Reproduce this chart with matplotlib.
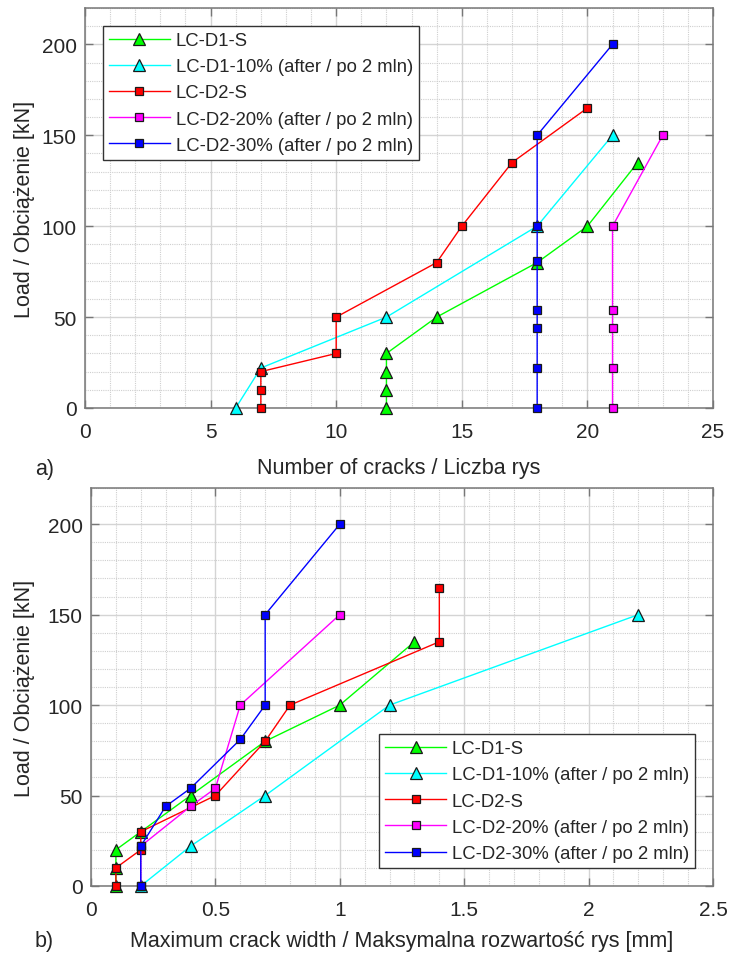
import matplotlib
matplotlib.use("Agg")
import matplotlib.pyplot as plt
from matplotlib.ticker import MultipleLocator

plt.rcParams['font.family'] = ['Liberation Sans', 'DejaVu Sans']

# ---------------- data ----------------
labels = ["LC-D1-S", "LC-D1-10% (after / po 2 mln)", "LC-D2-S",
          "LC-D2-20% (after / po 2 mln)", "LC-D2-30% (after / po 2 mln)"]
colors = ["#00ff00", "#00ffff", "#ff0000", "#ff00ff", "#0000ff"]
markers = ["^", "^", "s", "s", "s"]

# (a) number of cracks
d1s_cracks = [12, 12, 12, 12, 14, 18, 20, 22]
d1s_load_a = [0, 10, 20, 30, 50, 80, 100, 135]
d110_cracks = [6, 7, 12, 18, 21]
d110_load_a = [0, 22, 50, 100, 150]
d2s_cracks = [7, 7, 7, 10, 10, 14, 15, 17, 20]
d2s_load_a = [0, 10, 20, 30, 50, 80, 100, 135, 165]
d220_cracks = [21, 21, 21, 21, 21, 23]
d220_load_a = [0, 22, 44, 54, 100, 150]
d230_cracks = [18, 18, 18, 18, 18, 18, 18, 21]
d230_load_a = [0, 22, 44, 54, 81, 100, 150, 200]

# (b) maximum crack width [mm]
d1s_width = [0.1, 0.1, 0.1, 0.2, 0.4, 0.7, 1.0, 1.3]
d1s_load_b = [0, 10, 20, 30, 50, 80, 100, 135]
d110_width = [0.2, 0.4, 0.7, 1.2, 2.2]
d110_load_b = [0, 22, 50, 100, 150]
d2s_width = [0.1, 0.1, 0.2, 0.2, 0.5, 0.7, 0.8, 1.4, 1.4]
d2s_load_b = [0, 10, 20, 30, 50, 80, 100, 135, 165]
d220_width = [0.2, 0.2, 0.4, 0.5, 0.6, 1.0]
d220_load_b = [0, 22, 44, 54, 100, 150]
d230_width = [0.2, 0.2, 0.3, 0.4, 0.6, 0.7, 0.7, 1.0]
d230_load_b = [0, 22, 44, 54, 81, 100, 150, 200]

series_a = [(d1s_cracks, d1s_load_a), (d110_cracks, d110_load_a), (d2s_cracks, d2s_load_a),
            (d220_cracks, d220_load_a), (d230_cracks, d230_load_a)]
series_b = [(d1s_width, d1s_load_b), (d110_width, d110_load_b), (d2s_width, d2s_load_b),
            (d220_width, d220_load_b), (d230_width, d230_load_b)]

xticks_a = [0, 5, 10, 15, 20, 25]
xticks_b = [0, 0.5, 1, 1.5, 2, 2.5]
xticklabels_b = ["0", "0.5", "1", "1.5", "2", "2.5"]
yticks = [0, 50, 100, 150, 200]

fig = plt.figure(figsize=(7.37, 9.54), dpi=100)
W, H = 737.0, 954.0
ax1 = fig.add_axes([85 / W, (H - 409) / H, 628 / W, 400 / H])
ax2 = fig.add_axes([91 / W, (H - 887) / H, 622 / W, 398 / H])

spine_col = "#777777"
text_col = "#262626"


def style(ax, xmax, xmajor, xminor, ylab_x, xlab_y, xlabel):
    ax.set_xlim(0, xmax)
    ax.set_ylim(0, 220)
    ax.xaxis.set_major_locator(MultipleLocator(xmajor))
    ax.xaxis.set_minor_locator(MultipleLocator(xminor))
    ax.set_yticks(yticks)
    ax.yaxis.set_minor_locator(MultipleLocator(10))
    ax.grid(True, which='major', color='#d4d4d4', linewidth=1.0, linestyle='-', zorder=0)
    ax.grid(True, which='minor', color='#cfcfcf', linewidth=0.8, linestyle=(0, (1, 1)), zorder=0)
    ax.set_axisbelow(True)
    for s in ax.spines.values():
        s.set_color(spine_col)
        s.set_linewidth(1.1)
    ax.tick_params(which='major', direction='in', length=6, width=1, color=spine_col,
                   top=True, right=True, labelsize=15, labelcolor=text_col)
    ax.tick_params(axis='x', which='major', pad=10)
    ax.tick_params(axis='y', which='major', pad=6)
    ax.tick_params(which='minor', length=0, top=True, right=True)
    ax.set_ylabel("Load / Obciążenie [kN]", fontsize=15.5, color=text_col)
    ax.yaxis.label.set_va('center')
    ax.yaxis.set_label_coords(ylab_x, 0.5)
    ax.set_xlabel(xlabel, fontsize=15.5, color=text_col)
    ax.xaxis.label.set_va('center')
    ax.xaxis.set_label_coords(0.5, xlab_y)


def draw(ax, series):
    for (xs, ys), lab, c, m in zip(series, labels, colors, markers):
        ms = 9 if m == "^" else 6.3
        ax.plot(xs, ys, color=c, linewidth=1.0, marker=m, markersize=ms,
                markerfacecolor=c, markeredgecolor='#1a1a1a', markeredgewidth=0.9,
                label=lab, clip_on=False, zorder=3)


draw(ax1, series_a)
style(ax1, 25, 5, 1, (25 - 85) / 628, -(469 - 409) / 400, "Number of cracks / Liczba rys")
ax1.set_xticks(xticks_a)

draw(ax2, series_b)
style(ax2, 2.5, 0.5, 0.1, (25 - 91) / 622, -(942 - 887) / 398,
      "Maximum crack width / Maksymalna rozwartość rys [mm]")
ax2.set_xticks(xticks_b)
ax2.set_xticklabels(xticklabels_b)

leg_kw = dict(fontsize=13.3, handlelength=3.3, handletextpad=0.3, labelspacing=0.5,
              borderaxespad=0.95, borderpad=0.35, fancybox=False, framealpha=1,
              edgecolor='#333333', numpoints=1)
l1 = ax1.legend(loc='upper left', **leg_kw)
l2 = ax2.legend(loc='lower right', **leg_kw)
for l in (l1, l2):
    l.get_frame().set_linewidth(1.0)
    for t in l.get_texts():
        t.set_color(text_col)

fig.text(35 / W, 1 - 469 / H, "a)", fontsize=15.5, color=text_col, ha='left', va='center')
fig.text(35 / W, 1 - 942 / H, "b)", fontsize=15.5, color=text_col, ha='left', va='center')

fig.savefig("out.png", dpi=100)
